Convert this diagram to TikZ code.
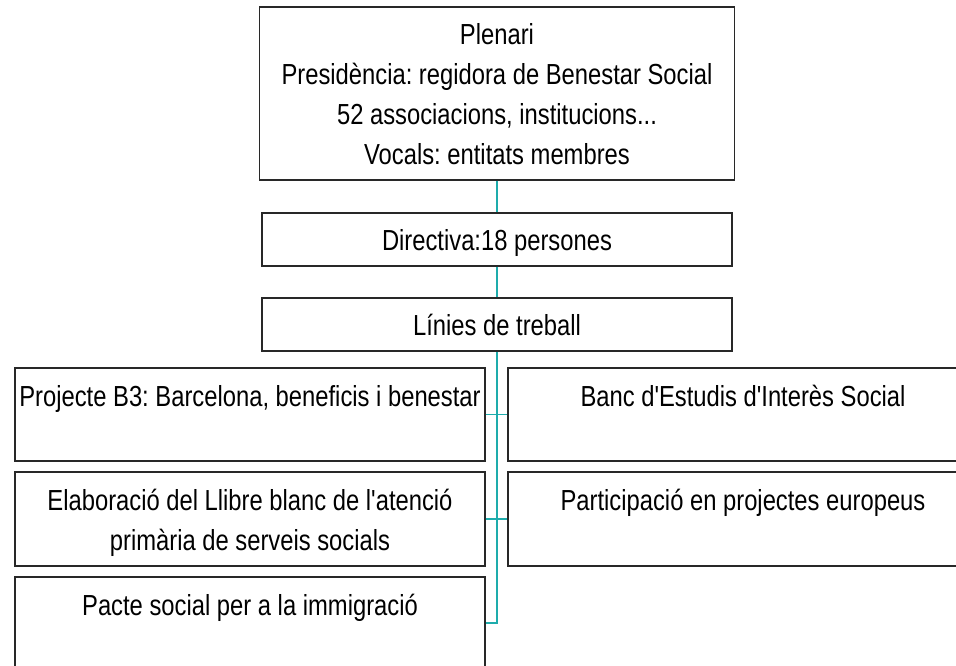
\documentclass[tikz,border=0pt]{standalone}
\usepackage{fontspec}
\newfontfamily\arialn{Liberation Sans}[FakeStretch=0.82]
\definecolor{conncol}{RGB}{30,172,172}
\definecolor{boxcol}{RGB}{40,40,40}
\begin{document}
\frenchspacing
\begin{tikzpicture}[x=1pt,y=-1pt,
  box/.style={draw=boxcol,line width=1.2pt,rectangle,inner sep=0pt,minimum width=470pt},
  txt/.style={inner sep=0pt,font=\arialn\fontsize{29}{39.7}\selectfont,align=center,anchor=base},
  conn/.style={draw=conncol,line width=1.1pt}]
\useasboundingbox (0,0) rectangle (956,665);
\clip (0,0) rectangle (956,665);
% boxes
\node[box,minimum width=475pt,minimum height=173pt] (P) at (497,93.5) {};
\node[box,minimum height=53pt] (D) at (497,239.5) {};
\node[box,minimum height=53pt] (L) at (497,324.5) {};
\node[box,minimum height=93pt] (L1) at (250,414.5) {};
\node[box,minimum height=93pt] (R1) at (743,414.5) {};
\node[box,minimum height=94pt] (L2) at (250,519) {};
\node[box,minimum height=94pt] (R2) at (743,519) {};
\node[box,minimum height=92pt] (L3) at (250,623) {};
% texts (base anchor = baseline of the last line)
\node[txt] (Pt) at (497,164) {Plenari\\Presidència: regidora de Benestar Social\\52 associacions, institucions...\\Vocals: entitats membres};
\node[txt] (Dt) at (497,250) {Directiva:18 persones};
\node[txt] (Lt) at (497,335) {Línies de treball};
\node[txt] (L1t) at (250,406) {Projecte B3: Barcelona, beneficis i benestar};
\node[txt] (R1t) at (743,406) {Banc d'Estudis d'Interès Social};
\node[txt] (L2t) at (250,550) {Elaboració del Llibre blanc de l'atenció\\primària de serveis socials};
\node[txt] (R2t) at (743,510) {Participació en projectes europeus};
\node[txt] (L3t) at (250,615) {Pacte social per a la immigració};
% connectors
\draw[conn] (P.south) -- (D.north);
\draw[conn] (D.south) -- (L.north);
\draw[conn] (L.south) |- (L3.east);
\draw[conn] (L1.east) -- (R1.west);
\draw[conn] (L2.east) -- (R2.west);
\end{tikzpicture}
\end{document}
